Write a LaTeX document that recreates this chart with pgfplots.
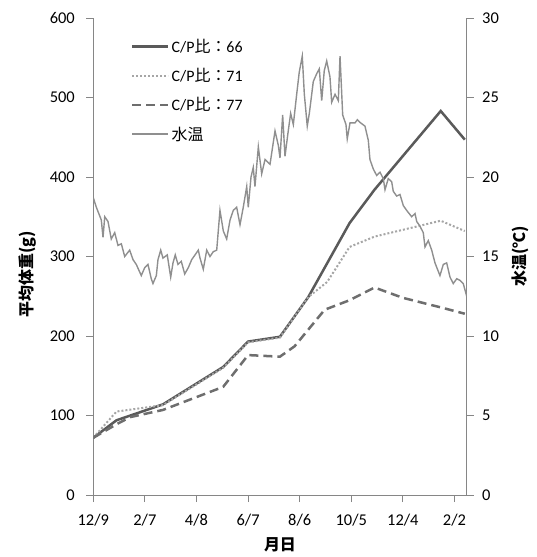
\documentclass[border=0pt]{standalone}
\usepackage{pgfplots}
\pgfplotsset{compat=1.18}
\usepackage{pgfplotstable}
\usepackage{fontspec}
\setmainfont{Carlito}
\newfontfamily\cjk{Noto Sans CJK JP}
\definecolor{axgray}{HTML}{868686}
\definecolor{c66}{HTML}{5A5A5A}
\definecolor{c71}{HTML}{A6A6A6}
\definecolor{c77}{HTML}{6E6E6E}
\definecolor{ctemp}{HTML}{8F8F8F}

\pgfplotstableread{
day w
0 72
27 94
81 114
151 161
180 193
217 199
250 249
298 342
327 384
404 483
432 447
}\cpA
\pgfplotstableread{
day w
0 72
27 105
81 113
151 160
180 192
217 198
250 249
272 268
298 312
327 325
404 345
432 332
}\cpB
\pgfplotstableread{
day w
0 72
27 89
43 98
81 107
151 136
180 176
217 174
234 187
269 233
298 245
327 261
360 248
404 236
432 228
}\cpC
\pgfplotstableread{
day t
0 18.7
3.5 18.1
9.3 17.3
11.3 16.2
13.3 17.5
17.1 17.2
20.9 16.1
24.9 16.5
28.7 15.7
32.6 15.8
36.5 15.0
42.3 15.4
46.2 14.8
50.0 14.5
55.8 13.8
59.8 14.3
63.6 14.5
67.4 13.6
69.4 13.3
73.3 13.8
75.2 14.8
78.4 15.4
81.0 14.9
86.0 15.1
90.0 13.7
92.7 14.6
95.3 15.1
98.5 14.5
102.3 14.7
106.3 13.9
110.5 14.3
114.4 14.8
118.3 15.1
122.1 15.4
124.1 14.9
127.9 14.2
131.9 15.4
135.7 15.0
139.5 15.3
143.5 15.4
147.3 17.9
151.2 16.6
155.1 16.1
159.0 17.3
162.8 17.9
166.7 18.1
170.6 17.0
174.4 18.1
178.4 19.4
180.2 18.1
183.4 20.0
186.0 20.6
188.0 19.4
191.9 21.9
195.8 20.2
199.7 21.1
205.5 20.8
211.3 22.9
215.1 22.0
217.1 21.2
220.2 23.9
222.9 21.3
226.7 22.9
229.5 24.0
232.6 23.3
236.5 25.2
239.5 26.6
243.0 27.6
245.4 25.2
248.8 23.2
251.2 24.0
255.8 26.0
259.8 26.5
262.8 26.8
265.6 24.8
268.6 26.7
271.4 27.3
275.2 26.3
277.2 24.7
281.1 25.2
284.9 24.8
286.9 27.6
290.0 23.9
293.8 23.3
295.3 22.4
298.5 23.4
304.3 23.4
307.0 23.6
310.9 23.4
315.9 23.2
319.8 22.3
321.7 21.1
325.6 20.5
329.5 20.1
333.4 20.3
337.2 19.9
339.2 19.2
343.0 19.9
347.0 19.7
348.8 19.1
352.8 18.8
356.6 18.9
360.5 18.2
364.4 17.9
370.2 17.5
374.1 17.7
376.1 17.2
379.9 16.9
383.7 16.5
385.7 15.6
389.5 16.0
393.5 15.4
397.3 14.6
403.1 13.8
407.0 14.5
410.9 14.6
414.8 13.7
418.6 13.3
422.6 13.6
426.4 13.5
430.2 13.3
434.2 12.5
}\temp

\begin{document}
\begin{tikzpicture}
\pgfplotsset{
 common/.style={
  scale only axis, width=373.4bp, height=477bp,
  xmin=0, xmax=434.2,
  axis line style={draw=axgray, line width=0.9pt, -},
  tick style={draw=axgray, line width=0.9pt},
  tick align=outside, major tick length=7bp,
  ticklabel style={font=\fontsize{16.5}{19}\selectfont},
  /pgf/number format/assume math mode=true,
  label style={font=\fontsize{16}{19}\selectfont\cjk\bfseries},
 },
 s66/.style={c66, line width=2.5bp},
 s71/.style={c71, line width=2bp, dash pattern=on 2bp off 2bp},
 s77/.style={c77, line width=2.5bp, dash pattern=on 9bp off 5bp},
 stemp/.style={ctemp, line width=1.4bp},
}
\useasboundingbox (-93.3bp,-62bp) rectangle (443.7bp,495bp);

\begin{axis}[common,
  axis x line*=bottom, axis y line*=left,
  ymin=0, ymax=600, ytick={0,100,...,600},
  xtick={0,60,...,420},
  xticklabels={12/9,2/7,4/8,6/7,8/6,10/5,12/4,2/2},
  yticklabel style={xshift=-8bp},
  xticklabel style={yshift=-9bp},
  xlabel={月日}, ylabel={平均体重(g)},
  xlabel style={at={(axis description cs:0.5,0)}, anchor=center, yshift=-50bp},
  ylabel style={at={(axis description cs:-0.175,0.463)}, anchor=center},
  legend style={draw=none, fill=none, at={(0.093,0.965)}, anchor=north west,
    font=\fontsize{16}{19}\selectfont, row sep=10.5bp},
  legend cell align=left,
  legend image code/.code={\draw[#1] (0bp,0bp) -- (36bp,0bp);},
]
\addplot[s66] table[x=day,y=w]{\cpA};
\addlegendentry{C/P{\cjk 比：}66}
\addplot[s71] table[x=day,y=w]{\cpB};
\addlegendentry{C/P{\cjk 比：}71}
\addplot[s77] table[x=day,y=w]{\cpC};
\addlegendentry{C/P{\cjk 比：}77}
\addlegendimage{stemp}
\addlegendentry{{\cjk 水温}}
\end{axis}

\begin{axis}[common,
  axis y line*=right, axis x line=none,
  ymin=0, ymax=30, ytick={0,5,...,30},
  yticklabel style={xshift=5bp},
  ylabel={水温(℃)},
  ylabel style={at={(axis description cs:1.1427,0.5)}, anchor=center},
]
\addplot[stemp] table[x=day,y=t]{\temp};
\end{axis}
\end{tikzpicture}
\end{document}
